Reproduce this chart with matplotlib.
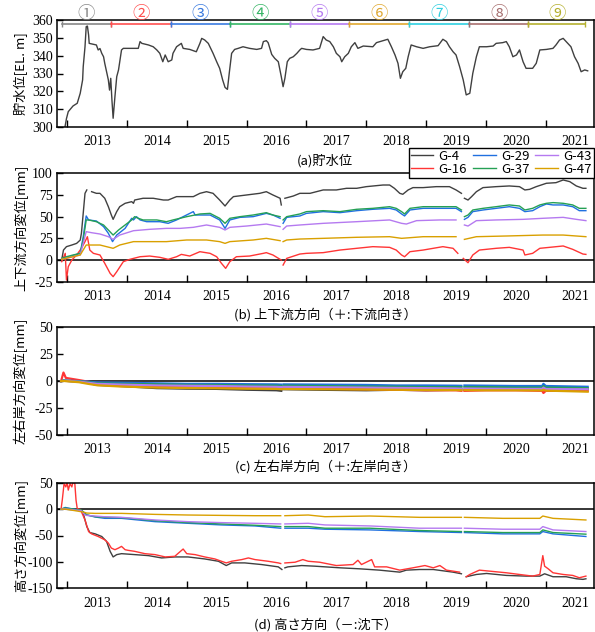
import matplotlib
matplotlib.use("Agg")
import matplotlib.pyplot as plt
import numpy as np

nan = np.nan
CJK = "Noto Sans CJK JP"

plt.rcParams["font.family"] = ["Liberation Serif", "DejaVu Serif"]
plt.rcParams["axes.unicode_minus"] = False

# ---------------- data ----------------
gauges = ["G-4", "G-16", "G-29", "G-37", "G-43", "G-47"]
colors = ["#404040", "#ff3535", "#2070e0", "#25a055", "#b57af0", "#d9a000"]

period_labels = ["①", "②", "③", "④", "⑤", "⑥", "⑦", "⑧", "⑨"]
period_colors = ["#888888", "#ff5050", "#3b7be0", "#35b565", "#b57af0",
                 "#e0a830", "#30d0e0", "#a87070", "#b5b030"]
period_edges = [2012.42, 2013.23, 2014.23, 2015.23, 2016.22, 2017.21,
                2018.21, 2019.22, 2020.21, 2021.16]

# (a) reservoir water level [EL. m]
wl_years = [2012.46, 2012.49, 2012.52, 2012.60, 2012.67, 2012.72, 2012.76, 2012.77,
            2012.80, 2012.82, 2012.84, 2012.86, 2012.87, 2012.94, 2012.99, 2013.02,
            2013.05, 2013.08, 2013.11, 2013.13, 2013.16, 2013.19, 2013.21, 2013.23,
            2013.25, 2013.27, 2013.30, 2013.33, 2013.36, 2013.41, 2013.44, 2013.69,
            2013.72, 2013.75, 2013.86, 2013.94, 2014.00, 2014.05, 2014.10, 2014.14,
            2014.19, 2014.25, 2014.27, 2014.33, 2014.41, 2014.44, 2014.55, 2014.66,
            2014.72, 2014.75, 2014.80, 2014.86, 2014.94, 2015.00, 2015.05, 2015.10,
            2015.14, 2015.18, 2015.21, 2015.25, 2015.30, 2015.36, 2015.44, 2015.55,
            2015.67, 2015.75, 2015.78, 2015.83, 2015.86, 2015.92, 2015.97, 2016.03,
            2016.08, 2016.11, 2016.14, 2016.18, 2016.22, 2016.28, 2016.34, 2016.39,
            2016.42, 2016.50, 2016.61, 2016.72, 2016.78, 2016.83, 2016.89, 2016.95,
            2017.00, 2017.06, 2017.09, 2017.14, 2017.20, 2017.25, 2017.31, 2017.36,
            2017.45, 2017.61, 2017.67, 2017.78, 2017.86, 2017.92, 2017.98, 2018.03,
            2018.07, 2018.11, 2018.16, 2018.20, 2018.25, 2018.34, 2018.45, 2018.56,
            2018.70, 2018.78, 2018.84, 2018.89, 2018.95, 2019.00, 2019.06, 2019.12,
            2019.17, 2019.23, 2019.28, 2019.34, 2019.39, 2019.51, 2019.62, 2019.67,
            2019.78, 2019.84, 2019.89, 2019.95, 2020.01, 2020.06, 2020.12, 2020.17,
            2020.28, 2020.34, 2020.40, 2020.51, 2020.62, 2020.67, 2020.73, 2020.79,
            2020.84, 2020.92, 2020.98, 2021.04, 2021.09, 2021.15, 2021.20]
wl_values = [299.0, 304.7, 308.6, 311.8, 313.3, 318.9, 326.4, 333.8,
             345.0, 356.3, 356.6, 351.6, 346.9, 346.4, 346.0, 343.2,
             344.0, 341.3, 339.4, 335.7, 331.0, 326.4, 320.7, 327.3,
             315.1, 304.9, 317.0, 328.2, 332.0, 343.2, 344.1, 344.1,
             347.9, 346.9, 346.0, 345.0, 343.2, 341.3, 336.6, 340.4,
             336.6, 337.6, 341.3, 345.0, 346.9, 344.1, 343.5, 342.2,
             346.9, 349.7, 348.8, 346.9, 341.3, 336.6, 332.9, 326.4,
             322.2, 321.1, 330.1, 341.3, 343.5, 344.1, 345.0, 344.1,
             343.5, 344.1, 347.9, 348.4, 347.3, 340.7, 338.5, 336.6,
             328.2, 322.6, 327.3, 336.6, 338.5, 339.4, 341.3, 343.2,
             344.1, 343.5, 343.2, 344.1, 350.7, 348.8, 347.9, 345.0,
             341.3, 339.4, 336.6, 339.4, 341.3, 345.0, 347.3, 344.1,
             345.4, 345.0, 347.3, 348.4, 349.2, 345.0, 340.4, 335.7,
             327.3, 331.0, 332.9, 339.4, 346.0, 345.0, 344.1, 345.0,
             345.6, 349.2, 347.9, 345.0, 342.2, 340.4, 333.8, 326.4,
             318.0, 318.9, 330.1, 339.4, 345.0, 345.0, 345.4, 346.9,
             347.3, 347.9, 345.0, 339.4, 340.4, 343.2, 336.6, 332.9,
             332.9, 335.7, 343.2, 343.5, 344.1, 346.0, 348.8, 349.7,
             347.9, 345.0, 339.4, 335.7, 331.0, 332.0, 331.5]

# (b) upstream-downstream displacement [mm]
ud_g4_years = [2012.41, 2012.44, 2012.49, 2012.58, 2012.66, 2012.72, 2012.74, 2012.77, 2012.80,
               2012.83, 2012.87, 2012.91, 2012.99, 2013.05, 2013.13, 2013.19, 2013.24, 2013.27,
               2013.33, 2013.38, 2013.47, 2013.58, 2013.61, 2013.63, 2013.77, 2013.94, 2014.11,
               2014.19, 2014.33, 2014.61, 2014.72, 2014.83, 2014.94, 2015.05, 2015.14, 2015.22,
               2015.28, 2015.50, 2015.72, 2015.83, 2015.94, 2016.06, 2016.08, 2016.10, 2016.14,
               2016.28, 2016.39, 2016.56, 2016.78, 2017.00, 2017.17, 2017.34, 2017.50, 2017.78,
               2017.89, 2017.97, 2018.06, 2018.11, 2018.20, 2018.28, 2018.45, 2018.67, 2018.89,
               2019.00, 2019.09, 2019.11, 2019.14, 2019.20, 2019.26, 2019.34, 2019.45, 2019.67,
               2019.89, 2020.06, 2020.15, 2020.23, 2020.34, 2020.51, 2020.67, 2020.79, 2020.90,
               2021.01, 2021.12, 2021.17]
ud_g4 = [0.0, 11.5, 15.4, 17.3, 19.2, 23.0, 30.8, 53.8, 76.9,
         80.8, nan, 78.8, 76.9, 76.9, 71.2, 61.5, 51.9, 46.9,
         55.8, 61.5, 65.4, 67.3, 65.4, 69.2, 71.2, 71.2, 69.2,
         69.2, 73.1, 73.1, 76.9, 78.8, 76.9, 69.2, 62.3, 69.2,
         73.1, 75.0, 76.9, 78.8, 75.0, 71.2, 63.5, nan, 71.2,
         73.8, 76.9, 76.9, 80.8, 80.8, 82.7, 82.7, 84.6, 86.5,
         86.5, 82.7, 76.9, 75.8, 80.8, 83.5, 83.5, 84.6, 84.6,
         80.8, 76.9, nan, 71.2, 69.2, 73.1, 78.8, 83.5, 84.6,
         85.4, 84.6, 80.8, 81.5, 84.6, 88.5, 89.2, 92.3, 90.4,
         85.4, 82.7, 82.7]

ud_g16_years = [2012.41, 2012.47, 2012.49, 2012.52, 2012.58, 2012.66, 2012.74, 2012.80, 2012.84,
                2012.88, 2012.94, 2013.05, 2013.13, 2013.22, 2013.27, 2013.33, 2013.44, 2013.55,
                2013.72, 2013.88, 2014.05, 2014.19, 2014.33, 2014.41, 2014.55, 2014.72, 2014.89,
                2015.00, 2015.08, 2015.15, 2015.22, 2015.33, 2015.55, 2015.78, 2015.83, 2015.94,
                2016.06, 2016.08, 2016.09, 2016.11, 2016.17, 2016.39, 2016.50, 2016.78, 2017.06,
                2017.34, 2017.61, 2017.89, 2018.00, 2018.09, 2018.14, 2018.23, 2018.45, 2018.78,
                2018.95, 2019.03, 2019.10, 2019.12, 2019.20, 2019.28, 2019.39, 2019.67, 2019.89,
                2020.12, 2020.15, 2020.28, 2020.40, 2020.56, 2020.79, 2020.95, 2021.12, 2021.17]
ud_g16 = [-1.9, 7.7, -23.0, -7.7, 0.0, 5.8, 13.5, 21.2, 26.9,
          11.5, 7.7, 5.8, -3.8, -15.4, -19.2, -13.5, -1.9, 0.8,
          3.8, 4.6, 3.1, 0.8, 3.8, 6.5, 4.6, 9.6, 7.7,
          3.8, -3.8, -9.6, -1.9, 3.8, 4.6, 7.7, 8.5, 5.8,
          0.8, 0.0, nan, -5.8, 1.9, 6.9, 7.7, 8.5, 11.5,
          13.5, 15.4, 14.6, 11.5, 5.8, 3.8, 9.6, 11.5, 15.4,
          13.5, 7.7, nan, 1.9, -3.1, 5.8, 11.5, 13.5, 14.6,
          11.5, 5.8, 7.7, 13.5, 14.6, 16.2, 12.3, 6.9, 6.5]

ud_g29_years = [2012.41, 2012.72, 2012.77, 2012.82, 2012.86, 2012.99, 2013.11, 2013.19, 2013.26,
                2013.33, 2013.47, 2013.58, 2013.61, 2013.66, 2013.72, 2013.83, 2014.05, 2014.19,
                2014.33, 2014.61, 2014.64, 2014.72, 2014.89, 2015.05, 2015.14, 2015.22, 2015.39,
                2015.61, 2015.83, 2015.94, 2016.06, 2016.09, 2016.11, 2016.17, 2016.39, 2016.50,
                2016.78, 2017.06, 2017.34, 2017.61, 2017.89, 2018.00, 2018.09, 2018.14, 2018.23,
                2018.45, 2019.00, 2019.09, 2019.10, 2019.14, 2019.20, 2019.28, 2019.45, 2019.67,
                2019.89, 2020.06, 2020.15, 2020.28, 2020.40, 2020.51, 2020.62, 2020.79, 2020.95,
                2021.06, 2021.17]
ud_g29 = [0.8, 7.7, 26.9, 50.8, 46.2, 45.0, 38.5, 30.8, 21.2,
          28.8, 36.5, 48.1, 46.2, 50.0, 46.2, 44.2, 44.2, 42.3,
          46.2, 55.8, 51.9, 51.9, 51.9, 46.2, 36.5, 46.2, 49.2,
          50.0, 53.8, 51.9, 48.1, nan, 42.3, 49.2, 50.8, 53.8,
          55.8, 54.6, 56.9, 58.5, 59.6, 57.7, 53.1, 50.8, 57.7,
          59.6, 59.6, 55.8, nan, 46.9, 49.2, 55.8, 57.7, 59.6,
          61.5, 59.6, 55.8, 56.9, 61.5, 64.6, 63.5, 63.5, 61.5,
          56.9, 56.9]

ud_g37_years = [2012.41, 2012.49, 2012.60, 2012.72, 2012.77, 2012.82, 2012.86, 2012.99, 2013.11,
                2013.19, 2013.27, 2013.36, 2013.47, 2013.58, 2013.63, 2013.69, 2013.77, 2014.00,
                2014.16, 2014.27, 2014.50, 2014.72, 2014.89, 2015.05, 2015.14, 2015.22, 2015.39,
                2015.61, 2015.83, 2015.94, 2016.06, 2016.09, 2016.11, 2016.17, 2016.39, 2016.50,
                2016.78, 2017.06, 2017.34, 2017.61, 2017.89, 2018.00, 2018.09, 2018.14, 2018.23,
                2018.45, 2019.00, 2019.09, 2019.10, 2019.14, 2019.20, 2019.28, 2019.45, 2019.67,
                2019.89, 2020.06, 2020.15, 2020.28, 2020.40, 2020.51, 2020.62, 2020.79, 2020.95,
                2021.06, 2021.17]
ud_g37 = [1.9, 3.8, 5.8, 7.7, 23.1, 46.2, 46.2, 44.2, 40.4,
          34.6, 28.8, 34.6, 40.4, 46.2, 50.0, 48.1, 46.2, 46.2,
          44.2, 46.2, 50.0, 53.1, 53.8, 48.1, 42.3, 48.1, 50.0,
          51.9, 54.6, 51.9, 50.0, nan, 46.2, 50.0, 53.1, 55.8,
          56.9, 55.8, 58.5, 59.6, 61.5, 59.6, 55.8, 53.1, 59.6,
          61.5, 61.5, 57.7, nan, 50.0, 51.9, 57.7, 59.6, 61.5,
          63.5, 62.3, 57.7, 59.6, 63.5, 65.4, 66.2, 65.4, 63.5,
          59.6, 59.6]

ud_g43_years = [2012.41, 2012.72, 2012.77, 2012.82, 2012.91, 2013.05, 2013.19, 2013.27, 2013.38,
                2013.61, 2013.88, 2014.16, 2014.39, 2014.61, 2014.83, 2015.05, 2015.14, 2015.22,
                2015.50, 2015.83, 2016.06, 2016.09, 2016.11, 2016.17, 2016.39, 2016.78, 2017.34,
                2017.89, 2018.09, 2018.17, 2018.34, 2018.73, 2019.00, 2019.10, 2019.14, 2019.20,
                2019.34, 2019.67, 2020.12, 2020.45, 2020.79, 2021.01, 2021.17]
ud_g43 = [0.8, 5.8, 19.2, 32.7, 31.5, 30.0, 26.9, 23.8, 28.8,
          33.8, 35.4, 36.5, 36.5, 37.7, 40.4, 37.7, 34.6, 37.7,
          39.2, 41.5, 38.5, nan, 35.4, 39.2, 40.4, 42.3, 44.2,
          46.2, 42.3, 41.5, 45.4, 46.2, 46.2, nan, 40.4, 39.2,
          45.4, 46.2, 46.9, 48.1, 49.2, 46.9, 45.4]

ud_g47_years = [2012.41, 2012.72, 2012.82, 2013.05, 2013.27, 2013.38, 2013.61, 2014.16, 2014.50,
                2014.83, 2015.05, 2015.14, 2015.22, 2015.61, 2015.83, 2016.06, 2016.09, 2016.11,
                2016.17, 2016.39, 2016.78, 2017.34, 2017.89, 2018.09, 2018.45, 2019.00, 2019.10,
                2019.14, 2019.34, 2019.84, 2020.45, 2020.79, 2021.17]
ud_g47 = [0.8, 5.8, 17.3, 17.3, 13.5, 17.3, 21.2, 21.2, 23.1,
          23.1, 21.2, 19.2, 21.2, 23.1, 25.0, 22.3, nan, 21.2,
          23.1, 24.2, 25.0, 26.2, 26.9, 25.0, 26.9, 26.9, nan,
          23.8, 26.9, 27.7, 28.8, 28.8, 26.9]

# (c) left-right bank displacement [mm]
lr_years = [2012.40, 2012.44, 2012.48, 2012.70, 2012.85, 2013.00, 2013.40, 2014.00, 2014.50,
            2015.00, 2015.50, 2016.00, 2016.08, 2016.10, 2016.12, 2016.70, 2017.50, 2018.00,
            2018.50, 2019.00, 2019.09, 2019.11, 2019.14, 2019.50, 2020.00, 2020.44, 2020.46,
            2020.50, 2021.00, 2021.20]
lr_g4 = [0.0, 0.5, 0.3, -0.5, -1.5, -3.5, -4.5, -6.5, -7.0, -7.2, -8.0, -8.5, -9.0, nan, -7.5,
         -8.0, -8.5, -8.0, -8.5, -8.0, -7.5, nan, -8.0, -7.5, -7.0, -6.8, -6.0, -7.0, -7.0, -7.2]
lr_g16 = [0.0, 8.0, 3.0, 1.0, -0.5, -2.0, -3.5, -4.5, -5.0, -5.5, -6.0, -6.5, -7.0, nan, -6.5,
          -7.0, -7.5, -8.0, -8.5, -8.5, -9.0, nan, -9.0, -8.5, -8.5, -9.0, -11.0, -9.0, -9.0, -9.0]
lr_g29 = [0.0, 0.5, 0.5, 0.0, -0.5, -1.2, -1.5, -2.0, -2.5, -2.5, -2.8, -3.0, -3.2, nan, -3.0,
          -3.2, -3.5, -4.0, -4.0, -4.2, -4.3, nan, -4.0, -4.2, -4.5, -4.5, -2.5, -4.5, -5.0, -5.2]
lr_g37 = [0.0, 0.5, 0.3, -0.2, -1.0, -2.0, -2.5, -3.0, -3.5, -3.6, -4.0, -4.2, -4.5, nan, -4.2,
          -4.5, -5.0, -5.2, -5.5, -5.5, -5.6, nan, -5.5, -5.5, -6.0, -6.0, -4.5, -6.0, -6.3, -6.5]
lr_g43 = [0.0, 0.3, 0.2, -0.5, -1.5, -2.5, -3.2, -4.0, -4.3, -4.5, -5.0, -5.3, -5.5, nan, -5.3,
          -5.6, -6.0, -6.3, -6.5, -6.8, -7.0, nan, -6.8, -7.0, -7.2, -7.2, -6.0, -7.3, -7.5, -7.5]
lr_g47 = [0.0, 0.2, 0.0, -1.0, -2.5, -3.8, -5.0, -6.0, -6.4, -6.6, -7.0, -7.2, -7.5, nan, -7.3,
          -7.5, -7.8, -8.0, -8.2, -8.3, -8.4, nan, -8.3, -8.5, -8.5, -8.6, -8.0, -8.8, -9.5, -9.8]

# (d) vertical displacement [mm]
v_g4_years = [2012.40, 2012.72, 2012.77, 2012.83, 2012.88, 2012.97, 2013.08, 2013.16, 2013.22,
              2013.27, 2013.33, 2013.41, 2013.63, 2013.86, 2014.08, 2014.30, 2014.52, 2014.80,
              2015.03, 2015.16, 2015.25, 2015.47, 2015.75, 2016.03, 2016.09, 2016.11, 2016.14,
              2016.19, 2016.42, 2016.64, 2017.06, 2017.39, 2017.72, 2018.06, 2018.17, 2018.39,
              2018.62, 2018.95, 2019.09, 2019.11, 2019.17, 2019.34, 2019.51, 2019.84, 2020.17,
              2020.40, 2020.48, 2020.62, 2020.84, 2021.01, 2021.12, 2021.17]
v_g4 = [0.0, -1.9, -8.0, -33.0, -44.4, -46.9, -51.9, -61.2, -80.0,
        -90.6, -86.2, -84.4, -86.2, -88.1, -92.5, -90.6, -90.6, -94.4,
        -98.8, -106.9, -101.9, -101.9, -105.0, -109.4, -114.4, nan, -111.2,
        -109.4, -106.9, -108.1, -111.2, -113.1, -115.6, -119.4, -115.6, -114.4,
        -114.4, -119.4, -122.5, nan, -128.1, -123.8, -121.9, -125.6, -126.9,
        -126.9, -122.5, -128.1, -128.1, -131.9, -133.1, -132.0]

v_g16_years = [2012.40, 2012.42, 2012.45, 2012.48, 2012.50, 2012.52, 2012.55, 2012.58, 2012.60,
               2012.63, 2012.65, 2012.67, 2012.72, 2012.74, 2012.80, 2012.86, 2012.91, 2013.02,
               2013.13, 2013.19, 2013.24, 2013.30, 2013.36, 2013.41, 2013.47, 2013.52, 2013.63,
               2013.80, 2013.97, 2014.14, 2014.30, 2014.44, 2014.50, 2014.64, 2014.80, 2014.97,
               2015.08, 2015.16, 2015.25, 2015.42, 2015.53, 2015.64, 2015.86, 2016.03, 2016.07,
               2016.11, 2016.14, 2016.31, 2016.44, 2016.53, 2016.72, 2017.00, 2017.28, 2017.36,
               2017.42, 2017.50, 2017.59, 2017.64, 2017.84, 2018.06, 2018.28, 2018.48, 2018.62,
               2018.73, 2018.84, 2019.06, 2019.11, 2019.17, 2019.23, 2019.39, 2019.56, 2019.84,
               2020.06, 2020.28, 2020.40, 2020.45, 2020.48, 2020.54, 2020.62, 2020.79, 2020.95,
               2021.06, 2021.17]
v_g16 = [0.0, 17.0, 48.0, 42.0, 52.0, 36.0, 48.0, 42.0, 52.0,
         48.0, 17.0, 1.0, -0.6, -5.0, -20.6, -42.5, -46.9, -51.9,
         -58.1, -64.4, -73.8, -76.9, -73.8, -70.6, -76.9, -78.1, -80.0,
         -84.4, -86.2, -90.6, -89.4, -75.6, -84.4, -86.2, -90.6, -94.4,
         -98.8, -101.9, -98.8, -95.6, -92.5, -95.6, -98.8, -101.9, -103.1,
         nan, -102.0, -100.6, -95.6, -98.8, -100.6, -106.9, -105.0, -96.9,
         -105.0, -100.6, -95.6, -109.4, -109.4, -115.6, -111.2, -106.9, -111.2,
         -106.9, -115.6, -119.4, nan, -128.1, -123.8, -115.6, -117.5, -120.6,
         -123.8, -126.9, -123.8, -88.1, -108.1, -113.1, -120.6, -123.8, -125.6,
         -130.0, -126.9]

v_years = [2012.40, 2012.47, 2012.74, 2012.80, 2012.83, 2012.97, 2013.13, 2013.41, 2013.97,
           2014.52, 2015.08, 2015.64, 2016.07, 2016.10, 2016.14, 2016.53, 2016.81, 2017.56,
           2018.39, 2019.09, 2019.11, 2019.14, 2019.78, 2020.40, 2020.45, 2020.62, 2021.17]
v_g29 = [0.0, 3.1, -3.1, -8.0, -11.2, -15.0, -17.5, -17.5, -23.8,
         -26.9, -30.0, -31.9, -36.2, nan, -36.2, -36.2, -38.1, -39.4,
         -42.5, -44.4, nan, -44.4, -46.9, -46.9, -42.5, -46.9, -51.9]
v_g37 = [0.0, 1.9, -1.9, -8.1, -11.0, -14.4, -15.5, -16.2, -21.9,
         -25.6, -28.1, -30.6, -33.1, nan, -33.1, -33.1, -36.2, -36.2,
         -40.6, -42.5, nan, -42.5, -44.4, -44.4, -39.4, -44.4, -47.5]
v_g43 = [0.0, 0.5, -3.1, -11.2, -12.0, -13.1, -14.5, -15.6, -20.6,
         -23.8, -25.6, -26.9, -28.1, nan, -28.1, -26.9, -30.0, -31.9,
         -36.2, -36.2, nan, -36.2, -38.1, -38.1, -33.1, -39.4, -42.5]
v_g47 = [0.0, 0.0, -5.0, -6.5, -7.5, -8.1, -8.1, -8.1, -10.0,
         -11.2, -11.9, -12.5, -12.5, nan, -12.5, -11.2, -14.4, -13.1,
         -15.6, -15.6, nan, -15.6, -17.5, -17.5, -13.1, -17.5, -20.6]

year_ticks = [2012.5, 2013.5, 2014.5, 2015.5, 2016.5, 2017.5, 2018.5, 2019.5, 2020.5]
year_labels = [2013, 2014, 2015, 2016, 2017, 2018, 2019, 2020, 2021]

# ---------------- figure ----------------
fig = plt.figure(figsize=(5.95, 6.32), dpi=100)
W, H = 595.0, 632.0
left, right = 57 / W, 593.5 / W


def make_axes(top_px, bot_px):
    return fig.add_axes([left, 1 - bot_px / H, right - left, (bot_px - top_px) / H])


def style(ax, ylim, yticks, ylabel):
    ax.set_xlim(2012.332, 2021.297)
    ax.set_ylim(*ylim)
    ax.set_yticks(yticks)
    ax.set_xticks(year_ticks, labels=[""] * len(year_ticks))
    ax.set_xticks(year_labels, labels=[str(y) for y in year_labels], minor=True)
    ax.tick_params(axis="x", which="major", direction="in", length=5, width=1.0,
                   top=False, labelsize=10)
    ax.tick_params(axis="x", which="minor", length=0, pad=6, labelsize=10)
    ax.tick_params(axis="y", direction="in", length=4, width=1.0, right=False,
                   labelsize=10, pad=3)
    for s in ax.spines.values():
        s.set_linewidth(1.1)
    ax.set_ylabel(ylabel, fontfamily=CJK, fontsize=9.5)
    ax.yaxis.set_label_coords(-0.054, 0.5)


ax_a = make_axes(20, 127)
ax_b = make_axes(173.3, 281.7)
ax_c = make_axes(327.3, 435)
ax_d = make_axes(482.7, 588.3)

# (a)
ax_a.plot(wl_years, wl_values, color="#404040", lw=1.0)
style(ax_a, (300, 360), range(300, 361, 10), "貯水位[EL. m]")
for i, lab in enumerate(period_labels):
    x0, x1 = period_edges[i], period_edges[i + 1]
    ax_a.plot([x0, x1], [357.8, 357.8], color=period_colors[i], lw=1.2,
              marker="|", ms=4, mew=1.0, clip_on=False)
    ax_a.text((x0 + x1) / 2, 1.055, lab, color=period_colors[i], fontsize=12.5,
              family=[CJK, "DejaVu Sans"], ha="center", va="center",
              transform=ax_a.get_xaxis_transform())

# (b)
ud_series = [(ud_g4_years, ud_g4), (ud_g16_years, ud_g16), (ud_g29_years, ud_g29),
             (ud_g37_years, ud_g37), (ud_g43_years, ud_g43), (ud_g47_years, ud_g47)]
ax_b.axhline(0, color="black", lw=1.1, zorder=1)
lines = []
for (xs, ys), name, c in zip(ud_series, gauges, colors):
    ln, = ax_b.plot(xs, ys, color=c, lw=1.0, label=name)
    lines.append(ln)
style(ax_b, (-25, 100), range(-25, 101, 25), "上下流方向変位[mm]")

# (c)
ax_c.axhline(0, color="black", lw=1.1, zorder=1)
for ys, c in zip([lr_g4, lr_g16, lr_g29, lr_g37, lr_g43, lr_g47], colors):
    ax_c.plot(lr_years, ys, color=c, lw=1.6)
style(ax_c, (-50, 50), range(-50, 51, 25), "左右岸方向変位[mm]")

# (d)
v_series = [(v_g4_years, v_g4), (v_g16_years, v_g16), (v_years, v_g29),
            (v_years, v_g37), (v_years, v_g43), (v_years, v_g47)]
ax_d.axhline(0, color="black", lw=1.1, zorder=1)
for (xs, ys), c in zip(v_series, colors):
    ax_d.plot(xs, ys, color=c, lw=1.0)
style(ax_d, (-150, 50), range(-150, 51, 50), "高さ方向変位[mm]")

# titles
cx = (57 + 593.5) / 2 / W
fig.text(cx, 1 - 161 / H, "(a)貯水位", family=CJK, fontsize=9.5, ha="center", va="center")
fig.text(cx, 1 - 315 / H, "(b) 上下流方向（＋:下流向き）", family=CJK, fontsize=9.5,
         ha="center", va="center")
fig.text(cx, 1 - 467 / H, "(c) 左右岸方向（＋:左岸向き）", family=CJK, fontsize=9.5,
         ha="center", va="center")
fig.text(cx, 1 - 625 / H, "(d) 高さ方向（－:沈下）", family=CJK, fontsize=9.5,
         ha="center", va="center")

leg = fig.legend(handles=lines, loc="upper right", bbox_to_anchor=(593.5 / W, 1 - 148 / H),
                 ncol=3, prop={"family": CJK, "size": 9.5}, frameon=True, fancybox=False,
                 edgecolor="black", framealpha=1, borderpad=0.15, labelspacing=0.0,
                 handlelength=1.7, handletextpad=0.4, columnspacing=0.45, borderaxespad=0)
leg.get_frame().set_linewidth(1.0)

fig.savefig("out.png", dpi=100)
